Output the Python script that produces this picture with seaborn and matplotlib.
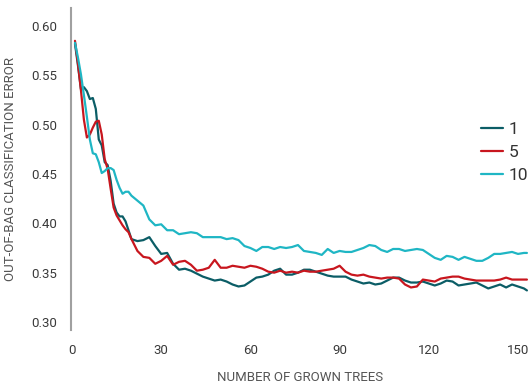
import matplotlib
matplotlib.use("Agg")
import matplotlib.pyplot as plt
import seaborn as sns
import pandas as pd

trees = list(range(1, 21)) + list(range(22, 153, 2)) + [153]

err_1 = [0.582, 0.560, 0.536, 0.538, 0.534, 0.526, 0.527, 0.516, 0.485, 0.479,
         0.462, 0.459, 0.443, 0.420, 0.411, 0.407, 0.407, 0.402, 0.393, 0.384,
         0.382, 0.383, 0.386, 0.377, 0.369, 0.370, 0.359, 0.353, 0.354, 0.352,
         0.349, 0.346, 0.344, 0.342, 0.343, 0.341, 0.338, 0.336, 0.337, 0.341,
         0.345, 0.346, 0.348, 0.352, 0.354, 0.348, 0.348, 0.350, 0.353, 0.353,
         0.351, 0.349, 0.347, 0.346, 0.346, 0.346, 0.343, 0.341, 0.339, 0.340,
         0.338, 0.339, 0.342, 0.345, 0.345, 0.342, 0.340, 0.340, 0.341, 0.339,
         0.337, 0.339, 0.342, 0.341, 0.337, 0.338, 0.339, 0.340, 0.337, 0.334,
         0.336, 0.338, 0.335, 0.338, 0.336, 0.334, 0.332]

err_5 = [0.585, 0.562, 0.535, 0.505, 0.487, 0.490, 0.497, 0.503, 0.504, 0.490,
         0.465, 0.455, 0.435, 0.416, 0.408, 0.403, 0.398, 0.394, 0.391, 0.384,
         0.372, 0.366, 0.365, 0.359, 0.362, 0.367, 0.358, 0.361, 0.362, 0.358,
         0.352, 0.353, 0.355, 0.363, 0.355, 0.355, 0.357, 0.356, 0.355, 0.357,
         0.356, 0.354, 0.351, 0.350, 0.352, 0.350, 0.351, 0.350, 0.352, 0.351,
         0.351, 0.352, 0.353, 0.354, 0.357, 0.351, 0.348, 0.347, 0.348, 0.346,
         0.345, 0.344, 0.345, 0.345, 0.344, 0.338, 0.335, 0.336, 0.343, 0.342,
         0.341, 0.344, 0.345, 0.346, 0.346, 0.344, 0.343, 0.342, 0.342, 0.342,
         0.342, 0.343, 0.345, 0.343, 0.343, 0.343, 0.343]

err_10 = [0.583, 0.568, 0.551, 0.530, 0.508, 0.485, 0.471, 0.470, 0.462, 0.451,
          0.453, 0.456, 0.456, 0.454, 0.444, 0.436, 0.430, 0.432, 0.432, 0.428,
          0.423, 0.418, 0.404, 0.398, 0.399, 0.393, 0.393, 0.389, 0.390, 0.391,
          0.390, 0.386, 0.386, 0.386, 0.386, 0.384, 0.385, 0.383, 0.377, 0.375,
          0.372, 0.376, 0.376, 0.374, 0.376, 0.375, 0.376, 0.378, 0.372, 0.371,
          0.370, 0.368, 0.374, 0.370, 0.372, 0.371, 0.371, 0.373, 0.375, 0.378,
          0.377, 0.373, 0.371, 0.374, 0.374, 0.372, 0.373, 0.374, 0.373, 0.369,
          0.365, 0.363, 0.367, 0.366, 0.363, 0.366, 0.364, 0.362, 0.362, 0.365,
          0.369, 0.369, 0.370, 0.371, 0.369, 0.370, 0.370]

series_labels = ["1", "5", "10"]
colors = ["#0b5d66", "#c8161e", "#1fb6c4"]
x_ticks = [0, 30, 60, 90, 120, 150]
y_ticks = [0.30, 0.35, 0.40, 0.45, 0.50, 0.55, 0.60]

rows = []
for lab, vals in zip(series_labels, [err_1, err_5, err_10]):
    for t, v in zip(trees, vals):
        rows.append({"trees": t, "error": v, "leaf": lab})
df = pd.DataFrame(rows)

sns.set_style("white")
plt.rcParams["font.family"] = ["Roboto", "DejaVu Sans"]

fig = plt.figure(figsize=(5.29, 3.87), dpi=100)
ax = fig.add_axes([71 / 529, 1 - 330 / 387, 1 - 71 / 529, (330 - 8) / 387])

sns.lineplot(data=df, x="trees", y="error", hue="leaf", hue_order=series_labels,
             palette=colors, linewidth=1.6, ax=ax, legend=True)

ax.set_xlim(-0.34, 153.7)
ax.set_ylim(0.30 - 8 / 986, 0.60 + 18 / 986)
ax.set_xticks(x_ticks)
ax.set_xticklabels([str(v) for v in x_ticks])
ax.set_yticks(y_ticks)
ax.set_yticklabels([f"{v:.2f}" for v in y_ticks])
ax.tick_params(axis="both", length=0, labelsize=9.5, colors="#3a3a3a")
ax.tick_params(axis="x", pad=10)
ax.tick_params(axis="y", pad=10)

for s in ["top", "right", "bottom"]:
    ax.spines[s].set_visible(False)
ax.spines["left"].set_color("#a0a0a0")
ax.spines["left"].set_linewidth(1.5)

ax.set_xlabel("NUMBER OF GROWN TREES", fontsize=9.5, color="#555555", labelpad=10)
ax.set_ylabel("OUT-OF-BAG CLASSIFICATION ERROR", fontsize=9.5, color="#555555", labelpad=10)

handles, labels = ax.get_legend_handles_labels()
ax.legend(handles, labels, loc="upper left", bbox_to_anchor=(481 / 529, 1 - 122 / 387),
          bbox_transform=fig.transFigure, frameon=False, fontsize=12.5,
          labelspacing=0.45, handlelength=1.25, handletextpad=0.35,
          borderpad=0, borderaxespad=0, labelcolor="#333333")

fig.savefig("out.png", dpi=100)
